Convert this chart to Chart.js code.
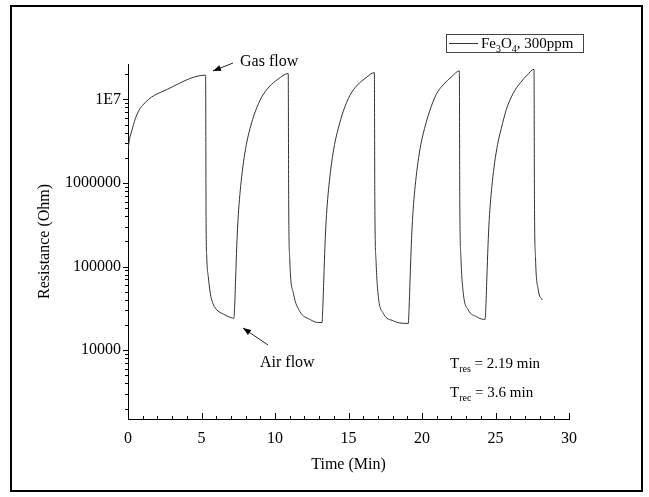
<!DOCTYPE html>
<html><head><meta charset="utf-8">
<script src="https://cdn.jsdelivr.net/npm/chart.js@4.4.1/dist/chart.umd.min.js"></script>
<style>html,body{margin:0;padding:0;background:#fff}#wrap{position:relative;width:649px;height:497px}</style>
</head><body><div id="wrap"><canvas id="c"></canvas></div>
<script>
// ---- data ----
const timeMin = [
  0, 0.1, 0.25, 0.5, 0.75, 1.0, 1.4, 1.8, 2.3, 5.28,
  5.31, 5.36, 5.46, 5.6, 5.75, 6.0, 6.5, 7.0, 7.2,
  7.25, 7.32, 7.4, 7.48, 7.58, 7.7, 7.85, 8.05, 8.3, 8.65, 9.1, 9.6, 10.2, 10.9,
  10.93, 11.0, 11.25, 11.7, 12.35, 12.95, 13.2,
  13.25, 13.32, 13.4, 13.48, 13.58, 13.7, 13.85, 14.05, 14.3, 14.65, 15.1, 15.6, 16.2, 16.76,
  16.79, 16.88, 17.03, 17.37, 18.05, 18.84, 19.07,
  19.12, 19.19, 19.27, 19.35, 19.45, 19.57, 19.72, 19.92, 20.17, 20.52, 20.97, 21.47, 22.0, 22.54,
  22.57, 22.65, 22.81, 23.15, 23.72, 24.17, 24.29,
  24.34, 24.41, 24.49, 24.57, 24.67, 24.79, 24.94, 25.14, 25.39, 25.74, 26.19, 26.69, 27.15, 27.62,
  27.65, 27.72, 27.91, 28.18
];
const resistanceOhm = [
  2.51e6, 3.31e6, 4.17e6, 5.89e6, 7.41e6, 8.51e6, 1.00e7, 1.12e7, 1.23e7, 1.95e7,
  3.98e5, 1.26e5, 7.59e4, 4.79e4, 3.72e4, 3.09e4, 2.69e4, 2.45e4, 2.40e4,
  3.16e4, 7.08e4, 1.78e5, 3.55e5, 6.31e5, 1.05e6, 1.74e6, 2.88e6, 4.47e6, 7.08e6, 1.07e7, 1.41e7, 1.74e7, 2.04e7,
  6.31e5, 1.26e5, 4.79e4, 2.88e4, 2.34e4, 2.14e4, 2.14e4,
  3.16e4, 7.08e4, 1.78e5, 3.55e5, 6.31e5, 1.05e6, 1.74e6, 2.88e6, 4.47e6, 7.24e6, 1.12e7, 1.48e7, 1.82e7, 2.09e7,
  6.31e5, 1.10e5, 4.37e4, 2.75e4, 2.24e4, 2.09e4, 2.09e4,
  3.16e4, 7.08e4, 1.78e5, 3.55e5, 6.31e5, 1.05e6, 1.74e6, 2.88e6, 4.47e6, 7.24e6, 1.15e7, 1.51e7, 1.86e7, 2.19e7,
  6.31e5, 1.26e5, 4.79e4, 3.02e4, 2.51e4, 2.34e4, 2.34e4,
  3.16e4, 7.08e4, 1.78e5, 3.55e5, 6.31e5, 1.05e6, 1.74e6, 2.88e6, 4.47e6, 7.59e6, 1.17e7, 1.58e7, 1.95e7, 2.29e7,
  6.31e5, 1.29e5, 5.25e4, 3.98e4
];
const xTickValues = [0, 5, 10, 15, 20, 25, 30];
const xTickLabels = ['0', '5', '10', '15', '20', '25', '30'];
const yTickValues = [1e4, 1e5, 1e6, 1e7];
const yTickLabels = ['10000', '100000', '1000000', '1E7'];
const xMinorStep = 1;
const yMinorMultipliers = [2, 3, 4, 5, 6, 7, 8, 9];
const xRange = [0, 30];
const yRange = [1500, 2.65e7];
const xTitle = 'Time (Min)';
const yTitle = 'Resistance (Ohm)';

const FONT = "'Liberation Serif', 'Times New Roman', serif";
Chart.defaults.font.family = FONT;
Chart.defaults.color = '#000';

function richText(ctx, parts, x, y, size) {
  let cx = x;
  for (const p of parts) {
    const fs = p.sub ? Math.round(size * 0.68) : size;
    ctx.font = fs + 'px ' + FONT;
    ctx.fillText(p.t, cx, y + (p.sub ? size * 0.28 : 0));
    cx += ctx.measureText(p.t).width;
  }
  return cx;
}
function arrow(ctx, x1, y1, x2, y2) {
  ctx.beginPath(); ctx.moveTo(x1, y1); ctx.lineTo(x2, y2); ctx.stroke();
  const a = Math.atan2(y2 - y1, x2 - x1), L = 8, W = 3;
  ctx.beginPath();
  ctx.moveTo(x2, y2);
  ctx.lineTo(x2 - L * Math.cos(a) + W * Math.sin(a), y2 - L * Math.sin(a) - W * Math.cos(a));
  ctx.lineTo(x2 - L * Math.cos(a) - W * Math.sin(a), y2 - L * Math.sin(a) + W * Math.cos(a));
  ctx.closePath(); ctx.fill();
}

const decor = {
  id: 'decor',
  afterDraw(chart) {
    const ctx = chart.ctx, xs = chart.scales.x, ys = chart.scales.y;
    const ca = chart.chartArea;
    ctx.save();
    ctx.strokeStyle = '#000'; ctx.fillStyle = '#000'; ctx.lineWidth = 1;
    // x ticks (inward)
    ctx.beginPath();
    for (let t = xRange[0]; t <= xRange[1] + 1e-9; t += xMinorStep) {
      const px = Math.round(xs.getPixelForValue(t)) + 0.5;
      const len = xTickValues.includes(t) ? 6 : 3;
      ctx.moveTo(px, ca.bottom); ctx.lineTo(px, ca.bottom - len);
    }
    // y ticks (outward)
    for (let e = 3; e <= 7; e++) {
      const base = Math.pow(10, e);
      const vals = [{ v: base, major: true }].concat(yMinorMultipliers.map(m => ({ v: m * base, major: false })));
      for (const o of vals) {
        if (o.v < yRange[0] || o.v > yRange[1]) continue;
        const py = Math.round(ys.getPixelForValue(o.v)) + 0.5;
        ctx.moveTo(ca.left, py); ctx.lineTo(ca.left - (o.major ? 5 : 3), py);
      }
    }
    ctx.stroke();
    // outer frame
    ctx.lineWidth = 2;
    ctx.strokeRect(11, 6, 631, 485);
    // axis titles
    ctx.font = '16px ' + FONT;
    ctx.textAlign = 'center'; ctx.textBaseline = 'middle';
    ctx.fillText(xTitle, (ca.left + ca.right) / 2, 465);
    ctx.save(); ctx.translate(45, (ca.top + ca.bottom) / 2); ctx.rotate(-Math.PI / 2);
    ctx.fillText(yTitle, 0, 0); ctx.restore();
    // legend
    ctx.lineWidth = 1; ctx.strokeStyle = '#444';
    ctx.strokeRect(446.5, 34.5, 137, 18);
    ctx.strokeStyle = '#333';
    ctx.beginPath(); ctx.moveTo(449, 43.5); ctx.lineTo(478, 43.5); ctx.stroke();
    ctx.textAlign = 'left'; ctx.textBaseline = 'alphabetic';
    richText(ctx, [{ t: 'Fe' }, { t: '3', sub: true }, { t: 'O' }, { t: '4', sub: true }, { t: ', 300ppm' }], 481, 48, 15);
    // annotations
    ctx.font = '16px ' + FONT;
    ctx.fillText('Gas flow', 240, 66);
    ctx.fillText('Air flow', 260, 367);
    ctx.strokeStyle = '#222'; ctx.fillStyle = '#000'; ctx.lineWidth = 1;
    arrow(ctx, 233, 63, 213, 71);
    arrow(ctx, 268, 345, 243, 328);
    richText(ctx, [{ t: 'T' }, { t: 'res', sub: true }, { t: ' = 2.19 min' }], 450, 368, 15);
    richText(ctx, [{ t: 'T' }, { t: 'rec', sub: true }, { t: ' = 3.6 min' }], 450, 397, 15);
    ctx.restore();
  }
};

new Chart(document.getElementById('c'), {
  type: 'line',
  data: {
    datasets: [{
      label: 'Fe3O4, 300ppm',
      data: timeMin.map((t, i) => ({ x: t, y: resistanceOhm[i] })),
      borderColor: '#333', borderWidth: 1, pointRadius: 0, fill: false,
      cubicInterpolationMode: 'monotone'
    }]
  },
  options: {
    responsive: true, maintainAspectRatio: false, animation: false,
    layout: { padding: { left: 0, top: 64, right: 80, bottom: 0 } },
    plugins: { legend: { display: false }, tooltip: { enabled: false } },
    scales: {
      x: {
        type: 'linear', min: xRange[0], max: xRange[1],
        afterBuildTicks: s => { s.ticks = xTickValues.map(v => ({ value: v })); },
        afterFit: s => { s.height = 78; },
        ticks: { autoSkip: false, maxRotation: 0, padding: 10, font: { size: 16 }, color: '#000',
          callback: (v, i) => xTickLabels[i] },
        grid: { display: false, drawTicks: false },
        border: { display: true, color: '#000', width: 1 }
      },
      y: {
        type: 'logarithmic', min: yRange[0], max: yRange[1],
        afterBuildTicks: s => { s.ticks = yTickValues.map(v => ({ value: v })); },
        afterFit: s => { s.width = 128; },
        ticks: { autoSkip: false, padding: 7, font: { size: 16 }, color: '#000',
          callback: (v, i) => yTickLabels[i] },
        grid: { display: false, drawTicks: false },
        border: { display: true, color: '#000', width: 1 }
      }
    }
  },
  plugins: [decor]
});
</script>
</body></html>
